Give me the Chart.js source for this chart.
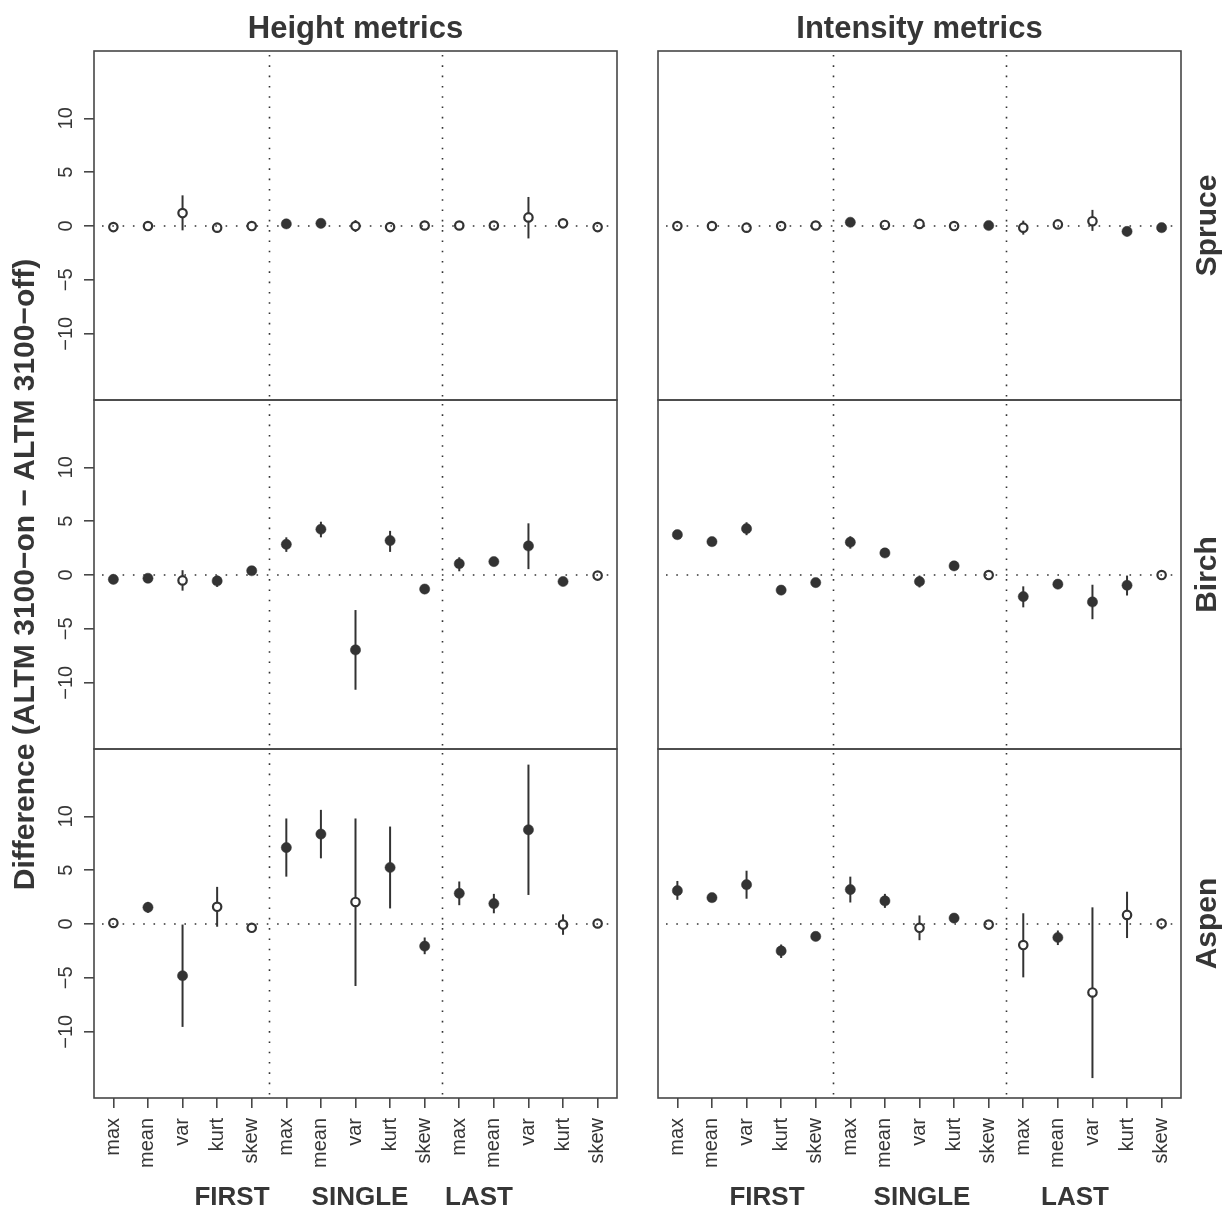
<!DOCTYPE html>
<html>
<head>
<meta charset="utf-8">
<script src="https://cdn.jsdelivr.net/npm/chart.js@4.4.1/dist/chart.umd.min.js"></script>
<style>
  html, body { margin: 0; padding: 0; background: #ffffff; }
  #wrap { position: relative; width: 1224px; height: 1207px; }
  #wrap canvas { position: absolute; left: 0; top: 0; }
</style>
</head>
<body>
<div id="wrap"></div>
<script>
// ---- categories and labels ----
const categories = ['max', 'mean', 'var', 'kurt', 'skew',
                    'max', 'mean', 'var', 'kurt', 'skew',
                    'max', 'mean', 'var', 'kurt', 'skew'];
const returnGroups = ['FIRST', 'SINGLE', 'LAST'];
const species = ['Spruce', 'Birch', 'Aspen'];
const metricTypes = ['Height metrics', 'Intensity metrics'];
const yTickValues = [-10, -5, 0, 5, 10];
const yAxisTitle = 'Difference (ALTM 3100\u2212on \u2212 ALTM 3100\u2212off)';

// ---- Height metrics: mean difference, interval bounds, significance (1 = filled) ----
const heightSpruce     = [-0.1, 0.0, 1.2, -0.15, 0.0, 0.2, 0.25, 0.0, -0.1, 0.05, 0.05, 0.05, 0.8, 0.25, -0.1];
const heightSpruceLow  = [-0.3, -0.15, -0.4, -0.35, -0.15, 0.05, 0.1, -0.55, -0.3, -0.1, -0.1, -0.1, -1.15, -0.05, -0.25];
const heightSpruceHigh = [0.1, 0.15, 2.85, 0.05, 0.15, 0.35, 0.4, 0.55, 0.1, 0.2, 0.2, 0.2, 2.7, 0.45, 0.05];
const heightSpruceSig  = [0, 0, 0, 0, 0, 1, 1, 0, 0, 0, 0, 0, 0, 0, 0];

const heightBirch      = [-0.4, -0.3, -0.5, -0.55, 0.4, 2.85, 4.25, -6.95, 3.2, -1.3, 1.05, 1.25, 2.7, -0.6, -0.05];
const heightBirchLow   = [-0.6, -0.5, -1.45, -1.1, 0.2, 2.15, 3.5, -10.65, 2.15, -1.5, 0.35, 0.85, 0.55, -0.8, -0.25];
const heightBirchHigh  = [-0.2, -0.1, 0.45, -0.05, 0.6, 3.5, 4.95, -3.25, 4.1, -1.1, 1.65, 1.6, 4.8, -0.4, 0.15];
const heightBirchSig   = [1, 1, 0, 1, 1, 1, 1, 1, 1, 1, 1, 1, 1, 1, 0];

const heightAspen      = [0.1, 1.55, -4.8, 1.6, -0.35, 7.1, 8.35, 2.05, 5.25, -2.05, 2.85, 1.9, 8.75, -0.05, 0.05];
const heightAspenLow   = [-0.1, 1.05, -9.55, -0.25, -0.55, 4.4, 6.1, -5.75, 1.45, -2.8, 1.75, 1.0, 2.7, -1.0, -0.15];
const heightAspenHigh  = [0.3, 2.05, -0.05, 3.45, -0.15, 9.8, 10.6, 9.8, 9.05, -1.25, 3.95, 2.8, 14.8, 0.9, 0.25];
const heightAspenSig   = [0, 1, 1, 0, 0, 1, 1, 0, 1, 1, 1, 1, 1, 0, 0];

// ---- Intensity metrics ----
const intensitySpruce     = [0.0, 0.0, -0.15, 0.0, 0.05, 0.35, 0.1, 0.2, 0.0, 0.05, -0.15, 0.15, 0.45, -0.5, -0.15];
const intensitySpruceLow  = [-0.15, -0.15, -0.35, -0.15, -0.1, 0.15, -0.1, -0.05, -0.15, 0.0, -0.8, -0.05, -0.45, -0.95, -0.3];
const intensitySpruceHigh = [0.15, 0.15, 0.05, 0.15, 0.2, 0.55, 0.3, 0.4, 0.15, 0.1, 0.5, 0.35, 1.5, -0.2, -0.05];
const intensitySpruceSig  = [0, 0, 0, 0, 0, 1, 0, 0, 0, 1, 0, 0, 0, 1, 1];

const intensityBirch      = [3.75, 3.1, 4.3, -1.4, -0.7, 3.05, 2.05, -0.6, 0.85, 0.0, -2.0, -0.85, -2.5, -0.95, 0.0];
const intensityBirchLow   = [3.55, 2.9, 3.7, -1.6, -0.9, 2.45, 1.85, -1.15, 0.65, -0.2, -3.0, -1.05, -4.1, -1.9, -0.2];
const intensityBirchHigh  = [3.95, 3.3, 4.9, -1.2, -0.5, 3.6, 2.25, -0.05, 1.05, 0.2, -1.05, -0.65, -0.9, -0.05, 0.2];
const intensityBirchSig   = [1, 1, 1, 1, 1, 1, 1, 1, 1, 0, 1, 1, 1, 1, 0];

const intensityAspen      = [3.1, 2.45, 3.65, -2.5, -1.15, 3.2, 2.15, -0.35, 0.55, -0.05, -1.95, -1.25, -6.35, 0.85, 0.05];
const intensityAspenLow   = [2.25, 2.25, 2.35, -3.15, -1.35, 2.0, 1.5, -1.5, 0.35, -0.25, -4.95, -1.95, -14.3, -1.3, -0.5];
const intensityAspenHigh  = [4.0, 2.65, 4.95, -1.9, -0.95, 4.4, 2.8, 0.8, 0.75, 0.15, 1.0, -0.6, 1.55, 3.0, 0.5];
const intensityAspenSig   = [1, 1, 1, 1, 1, 1, 1, 0, 1, 0, 0, 1, 0, 0, 0];

// ---- page layout ----
const W = 1224, H = 1207;
const INK = '#333333';
const TEXT = '#363636';
const FRAME = '#474747';
const FONT = "'Liberation Sans', Arial, Helvetica, sans-serif";
const columns = [{ left: 94, right: 617 }, { left: 658, right: 1181 }];
const rows = [{ top: 51, bottom: 400 }, { top: 400, bottom: 749 }, { top: 749, bottom: 1098 }];
const Y_AXIS_W = 40;
const X_AXIS_H = 80;
const X_MIN = 0.44, X_MAX = 15.56;
const Y_MIN = -16.15, Y_MAX = 16.25;

const panels = [
  { row: 0, col: 0, val: heightSpruce, lo: heightSpruceLow, hi: heightSpruceHigh, sig: heightSpruceSig },
  { row: 1, col: 0, val: heightBirch, lo: heightBirchLow, hi: heightBirchHigh, sig: heightBirchSig },
  { row: 2, col: 0, val: heightAspen, lo: heightAspenLow, hi: heightAspenHigh, sig: heightAspenSig },
  { row: 0, col: 1, val: intensitySpruce, lo: intensitySpruceLow, hi: intensitySpruceHigh, sig: intensitySpruceSig },
  { row: 1, col: 1, val: intensityBirch, lo: intensityBirchLow, hi: intensityBirchHigh, sig: intensityBirchSig },
  { row: 2, col: 1, val: intensityAspen, lo: intensityAspenLow, hi: intensityAspenHigh, sig: intensityAspenSig }
];

// vertical interval lines, drawn beneath the points
const errorBars = {
  id: 'errorBars',
  beforeDatasetsDraw(chart) {
    const { ctx, scales: { x, y } } = chart;
    const ds = chart.data.datasets[0];
    ctx.save();
    ctx.strokeStyle = INK;
    ctx.lineWidth = 2;
    ds.errLow.forEach((lo, i) => {
      const px = x.getPixelForValue(i + 1);
      ctx.beginPath();
      ctx.moveTo(px, y.getPixelForValue(lo));
      ctx.lineTo(px, y.getPixelForValue(ds.errHigh[i]));
      ctx.stroke();
    });
    ctx.restore();
  }
};

// dotted zero line and return-group separators, drawn over the points
const refLines = {
  id: 'refLines',
  afterDatasetsDraw(chart) {
    const { ctx, chartArea: a, scales: { x, y } } = chart;
    ctx.save();
    ctx.strokeStyle = INK;
    ctx.lineWidth = 1.6;
    ctx.setLineDash([1.6, 8.7]);
    const y0 = y.getPixelForValue(0);
    ctx.beginPath();
    ctx.moveTo(a.left + 8, y0);
    ctx.lineTo(a.right, y0);
    ctx.stroke();
    [5.5, 10.5].forEach(v => {
      const px = Math.round(x.getPixelForValue(v)) + 0.5;
      ctx.beginPath();
      ctx.moveTo(px, a.top + 4);
      ctx.lineTo(px, a.bottom);
      ctx.stroke();
    });
    ctx.restore();
  }
};

// panel box
const frame = {
  id: 'frame',
  afterDraw(chart) {
    const { ctx, chartArea: a } = chart;
    ctx.save();
    ctx.strokeStyle = FRAME;
    ctx.lineWidth = 1.6;
    ctx.strokeRect(a.left, a.top, a.right - a.left, a.bottom - a.top);
    ctx.restore();
  }
};

// rotated y tick labels for the left column
const yTickLabels = {
  id: 'yTickLabels',
  afterDraw(chart) {
    const { ctx, scales: { y } } = chart;
    ctx.save();
    ctx.fillStyle = TEXT;
    ctx.font = '20px ' + FONT;
    ctx.textAlign = 'center';
    ctx.textBaseline = 'middle';
    yTickValues.forEach(v => {
      ctx.save();
      ctx.translate(66, y.getPixelForValue(v));
      ctx.rotate(-Math.PI / 2);
      ctx.fillText(v < 0 ? '\u2212' + Math.abs(v) : String(v), 0, 0);
      ctx.restore();
    });
    ctx.restore();
  }
};

// column titles, row strips, axis title and return-group captions
const annotations = {
  id: 'annotations',
  afterDraw(chart) {
    const ctx = chart.ctx;
    ctx.save();
    ctx.fillStyle = TEXT;
    ctx.font = 'bold 31px ' + FONT;
    ctx.textAlign = 'center';
    ctx.textBaseline = 'alphabetic';
    metricTypes.forEach((t, c) => {
      ctx.fillText(t, (columns[c].left + columns[c].right) / 2, 38);
    });
    ctx.font = 'bold 30px ' + FONT;
    ctx.textBaseline = 'middle';
    species.forEach((s, r) => {
      ctx.save();
      ctx.translate(1208, (rows[r].top + rows[r].bottom) / 2);
      ctx.rotate(-Math.PI / 2);
      ctx.fillText(s, 0, 0);
      ctx.restore();
    });
    ctx.save();
    ctx.translate(26, (rows[0].top + rows[2].bottom) / 2);
    ctx.rotate(-Math.PI / 2);
    ctx.fillText(yAxisTitle, 0, 0);
    ctx.restore();
    ctx.font = 'bold 26px ' + FONT;
    ctx.textBaseline = 'alphabetic';
    const groupX = [[232, 360, 479], [767, 922, 1075]];
    groupX.forEach(xs => xs.forEach((gx, i) => ctx.fillText(returnGroups[i], gx, 1205)));
    ctx.restore();
  }
};

const wrap = document.getElementById('wrap');
panels.forEach((p, idx) => {
  const canvas = document.createElement('canvas');
  canvas.width = W;
  canvas.height = H;
  canvas.style.width = W + 'px';
  canvas.style.height = H + 'px';
  wrap.appendChild(canvas);
  const col = columns[p.col];
  const row = rows[p.row];
  const isLeft = p.col === 0;
  const isBottom = p.row === 2;
  const extra = [errorBars, refLines, frame];
  if (isLeft) extra.push(yTickLabels);
  if (idx === 0) extra.push(annotations);

  new Chart(canvas, {
    type: 'scatter',
    data: {
      datasets: [{
        data: p.val.map((v, i) => ({ x: i + 1, y: v })),
        errLow: p.lo,
        errHigh: p.hi,
        pointRadius: p.sig.map(s => (s ? 5.1 : 4.2)),
        pointHoverRadius: p.sig.map(s => (s ? 5.1 : 4.2)),
        pointBackgroundColor: p.sig.map(s => (s ? INK : '#ffffff')),
        pointBorderColor: INK,
        pointBorderWidth: p.sig.map(s => (s ? 0.5 : 2.2)),
        showLine: false
      }]
    },
    options: {
      responsive: false,
      animation: false,
      events: [],
      clip: false,
      layout: {
        padding: {
          left: isLeft ? col.left - Y_AXIS_W : col.left,
          right: W - col.right,
          top: row.top,
          bottom: isBottom ? H - row.bottom - X_AXIS_H : H - row.bottom
        }
      },
      plugins: { legend: { display: false }, tooltip: { enabled: false } },
      scales: {
        x: {
          type: 'linear',
          min: X_MIN,
          max: X_MAX,
          display: isBottom,
          position: 'bottom',
          afterBuildTicks: s => { s.ticks = categories.map((_, i) => ({ value: i + 1 })); },
          afterFit: s => {
            s.height = isBottom ? X_AXIS_H : 0;
            s.paddingLeft = 0;
            s.paddingRight = 0;
          },
          grid: { drawOnChartArea: false, drawTicks: true, tickLength: 10, color: FRAME, lineWidth: 1.6 },
          border: { display: false },
          ticks: {
            autoSkip: false,
            minRotation: 90,
            maxRotation: 90,
            padding: 10,
            color: TEXT,
            font: { family: FONT, size: 20 },
            callback: v => categories[v - 1]
          }
        },
        y: {
          min: Y_MIN,
          max: Y_MAX,
          display: isLeft,
          position: 'left',
          afterBuildTicks: s => { s.ticks = yTickValues.map(v => ({ value: v })); },
          afterFit: s => {
            s.width = isLeft ? Y_AXIS_W : 0;
            s.paddingTop = 0;
            s.paddingBottom = 0;
          },
          grid: { drawOnChartArea: false, drawTicks: true, tickLength: 10, color: FRAME, lineWidth: 1.6 },
          border: { display: false },
          ticks: { display: false }
        }
      }
    },
    plugins: extra
  });
});
</script>
</body>
</html>
